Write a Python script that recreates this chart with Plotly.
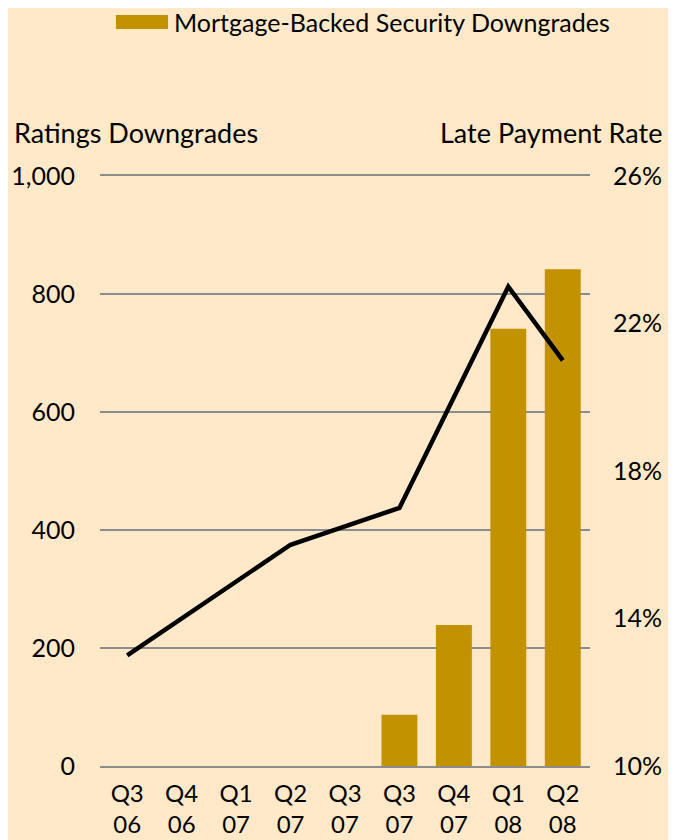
import plotly.graph_objects as go

quarters = ["Q3<br>06", "Q4<br>06", "Q1<br>07", "Q2<br>07", "Q3<br>07",
            "Q3<br>07", "Q4<br>07", "Q1<br>08", "Q2<br>08"]
downgrades = [0, 0, 0, 0, 0, 87, 239, 741, 842]
late_rate = [13.0, 14.0, 15.0, 16.0, 16.5, 17.0, 20.0, 23.0, 21.0]
left_ticks = [0, 200, 400, 600, 800, 1000]
right_ticks = [10, 14, 18, 22, 26]
right_labels = ["10%", "14%", "18%", "22%", "26%"]

x_pos = list(range(len(quarters)))

BG = "#FFE9C9"
BAR = "#C39200"
GRID = "#8C8C8C"
FONT = "Lato"
FS = 25

# page body has an 8px default margin; plot area is placed to land at
# x 100..590, y 176..766 in the window (plot: 490 x 590 px)
PW, PH = 490, 590

def px_x(px):
    return (px - 100) / PW

def px_y(py):
    return 1 + (176 - py) / PH

fig = go.Figure()
fig.add_trace(go.Bar(
    x=x_pos, y=downgrades, name="Mortgage-Backed Security Downgrades",
    marker=dict(color=BAR, line=dict(width=0)),
    width=0.66, showlegend=True,
))
fig.add_trace(go.Scatter(
    x=x_pos, y=late_rate, yaxis="y2", mode="lines",
    line=dict(color="black", width=4.5), showlegend=False,
))

fig.update_layout(
    width=676, height=840,
    paper_bgcolor=BG, plot_bgcolor=BG,
    margin=dict(l=92, r=94, t=168, b=82, autoexpand=False),
    font=dict(family=FONT, size=FS, color="black"),
    xaxis=dict(
        tickmode="array", tickvals=x_pos, ticktext=quarters,
        range=[-0.5, len(quarters) - 0.5], automargin=False,
        showgrid=False, zeroline=False, showline=True, mirror=True,
        linecolor=GRID, linewidth=2, ticks="",
        ticklabelstandoff=5, tickfont=dict(size=24),
    ),
    yaxis=dict(
        range=[0, 1000], tickmode="array", tickvals=left_ticks,
        tickformat=",", showgrid=True, gridcolor=GRID, gridwidth=2,
        automargin=False,
        zeroline=False, showline=False, ticks="", ticklabelstandoff=24,
    ),
    yaxis2=dict(
        range=[10, 26], tickmode="array", tickvals=right_ticks,
        ticktext=right_labels, overlaying="y", side="right",
        automargin=False,
        showgrid=False, zeroline=False, showline=False, ticks="",
        ticklabelstandoff=22,
    ),
    legend=dict(
        orientation="h", x=0.0694, xanchor="left",
        y=1 - 14 / 840, yref="container", yanchor="middle",
        bgcolor="rgba(0,0,0,0)", font=dict(size=FS),
    ),
    shapes=[
        # wide legend swatch, as in the reference
        dict(type="rect", xref="paper", yref="paper",
             x0=px_x(116), x1=px_x(168), y0=px_y(29), y1=px_y(15),
             fillcolor=BAR, line=dict(width=0), layer="above"),
    ],
    annotations=[
        dict(text="Ratings Downgrades", xref="paper", yref="paper",
             x=px_x(12), xanchor="left", y=px_y(133), yanchor="middle",
             showarrow=False, font=dict(size=27)),
        dict(text="Late Payment Rate", xref="paper", yref="paper",
             x=px_x(664), xanchor="right", y=px_y(133), yanchor="middle",
             showarrow=False, font=dict(size=27)),
    ],
)

fig.write_html("out.html")
